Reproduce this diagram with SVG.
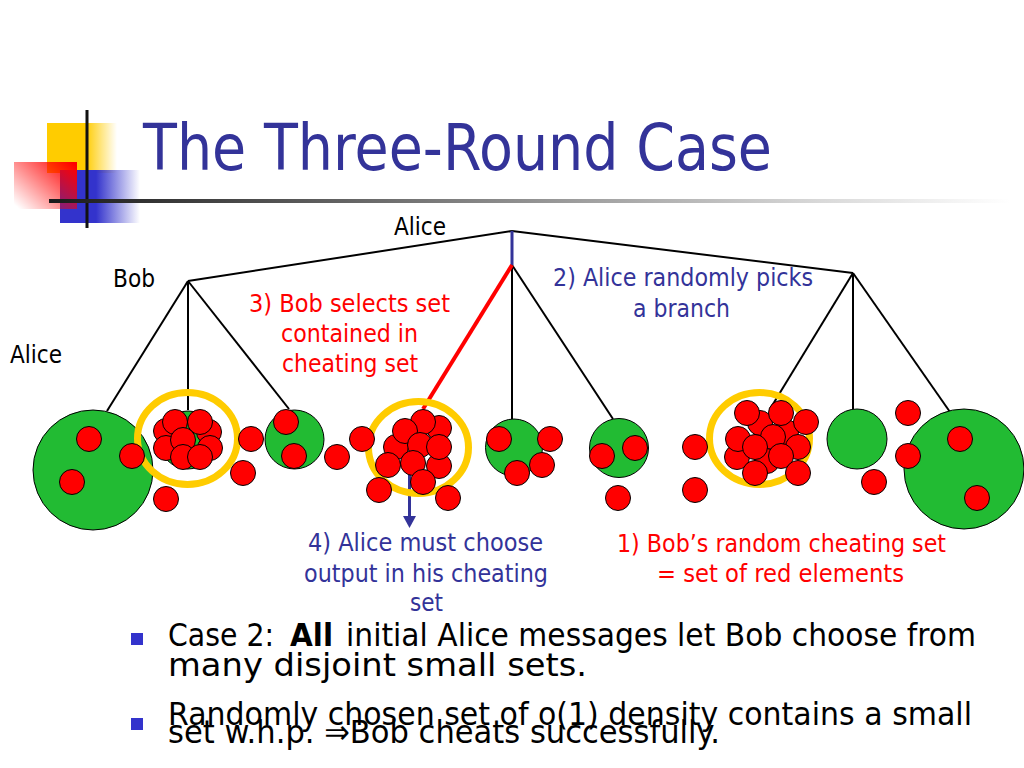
<svg xmlns="http://www.w3.org/2000/svg" width="1024" height="768" viewBox="0 0 1024 768">
<defs>
<linearGradient id="gy" gradientUnits="userSpaceOnUse" x1="47" y1="0" x2="117" y2="0"><stop offset="0" stop-color="#ffcc00"/><stop offset="0.55" stop-color="#ffcc00"/><stop offset="1" stop-color="#ffcc00" stop-opacity="0"/></linearGradient>
<linearGradient id="gb" gradientUnits="userSpaceOnUse" x1="60" y1="0" x2="140" y2="0"><stop offset="0" stop-color="#3333cc"/><stop offset="0.45" stop-color="#3333cc"/><stop offset="1" stop-color="#3333cc" stop-opacity="0"/></linearGradient>
<linearGradient id="gr" x1="1" y1="0.1" x2="0" y2="0.9"><stop offset="0" stop-color="#ff0000"/><stop offset="1" stop-color="#ff0000" stop-opacity="0"/></linearGradient>
<linearGradient id="gl" gradientUnits="userSpaceOnUse" x1="49" y1="0" x2="1010" y2="0"><stop offset="0" stop-color="#1a1a1a"/><stop offset="0.4" stop-color="#7a7a7a"/><stop offset="0.8" stop-color="#d8d8d8"/><stop offset="1" stop-color="#ffffff"/></linearGradient>
<style>
text{font-family:"DejaVu Sans","Liberation Sans",sans-serif}
.lbl{font-size:24px;fill:#000}
.blue{font-size:24px;fill:#333399}
.red{font-size:24px;fill:#ff0000}
.body{font-size:32px;fill:#000}
.edge{stroke:#000;stroke-width:2;fill:none}
.r{fill:#ff0000;stroke:#000;stroke-width:1}
.g{fill:#22bb33;stroke:#000;stroke-width:1}
.y{fill:none;stroke:#ffcc00;stroke-width:7}
</style>
</defs>
<rect width="1024" height="768" fill="#fff"/>
<g id="logo">
<rect x="47" y="123" width="70" height="50" fill="url(#gy)"/>
<rect x="60" y="170" width="80" height="53" fill="url(#gb)"/>
<rect x="14" y="162" width="63" height="47" fill="url(#gr)"/>
<rect x="85.5" y="110" width="3" height="118" fill="#111"/>
<rect x="49" y="199" width="961" height="4" fill="url(#gl)"/>
</g>
<text id="title" x="143" y="170" font-size="64" fill="#333399" textLength="629" lengthAdjust="spacingAndGlyphs">The Three-Round Case</text>

<g id="connectors">
<line class="edge" x1="512" y1="231" x2="188" y2="281"/>
<line class="edge" x1="512" y1="231" x2="853" y2="273"/>
<line class="edge" x1="188" y1="281" x2="107" y2="411"/>
<line class="edge" x1="188" y1="281" x2="188" y2="410"/>
<line class="edge" x1="188" y1="281" x2="289" y2="409"/>
<line class="edge" x1="512" y1="265" x2="512" y2="419"/>
<line class="edge" x1="512" y1="265" x2="613" y2="419"/>
<line class="edge" x1="853" y1="273" x2="770" y2="409"/>
<line class="edge" x1="853" y1="273" x2="853" y2="409"/>
<line class="edge" x1="853" y1="273" x2="950" y2="412"/>
<line x1="512" y1="231" x2="512" y2="265" stroke="#333399" stroke-width="3"/>
<line x1="512" y1="265" x2="423" y2="409" stroke="#ff0000" stroke-width="4"/>
<line x1="409.5" y1="470" x2="409.5" y2="518" stroke="#333399" stroke-width="3"/>
<polygon points="403,516 416,516 409.5,528" fill="#333399"/>
</g>

<g id="node-alice-root"><text class="lbl" x="394" y="235" textLength="52" lengthAdjust="spacingAndGlyphs">Alice</text></g>
<g id="node-bob-left"><text class="lbl" x="113" y="287" textLength="42" lengthAdjust="spacingAndGlyphs">Bob</text></g>
<g id="level-alice"><text class="lbl" x="10" y="363" textLength="52" lengthAdjust="spacingAndGlyphs">Alice</text></g>

<g id="set-1">
<circle class="g" cx="93" cy="470" r="60"/>
<circle class="r" cx="89" cy="439" r="12.5"/>
<circle class="r" cx="72" cy="482" r="12.5"/>
</g>
<g id="set-2">
<circle class="g" cx="188" cy="440" r="29"/>
<ellipse class="y" cx="187.5" cy="438.5" rx="50" ry="46"/>
<circle class="r" cx="166" cy="431" r="12.5"/>
<circle class="r" cx="209" cy="432" r="12.5"/>
<circle class="r" cx="166" cy="448" r="12.5"/>
<circle class="r" cx="210" cy="448" r="12.5"/>
<circle class="r" cx="175" cy="422" r="12.5"/>
<circle class="r" cx="200" cy="422" r="12.5"/>
<circle class="r" cx="183" cy="440" r="12.5"/>
<circle class="r" cx="183" cy="457" r="12.5"/>
<circle class="r" cx="200" cy="457" r="12.5"/>
<circle class="r" cx="132" cy="456" r="12.5"/>
<circle class="r" cx="166" cy="499" r="12.5"/>
<circle class="r" cx="251" cy="439" r="12.5"/>
<circle class="r" cx="243" cy="473" r="12.5"/>
</g>
<g id="set-3">
<circle class="g" cx="294.5" cy="439.5" r="29.5"/>
<circle class="r" cx="286" cy="422" r="12.5"/>
<circle class="r" cx="294" cy="456" r="12.5"/>
<circle class="r" cx="337" cy="457" r="12.5"/>
</g>
<g id="node-bob-mid">
<ellipse class="y" cx="418.5" cy="447.5" rx="50" ry="46"/>
<circle class="r" cx="362" cy="439" r="12.5"/>
<circle class="r" cx="439" cy="428" r="12.5"/>
<circle class="r" cx="423" cy="422" r="12.5"/>
<circle class="r" cx="396" cy="447" r="12.5"/>
<circle class="r" cx="405" cy="431" r="12.5"/>
<circle class="r" cx="420" cy="445" r="12.5"/>
<circle class="r" cx="439" cy="466" r="12.5"/>
<circle class="r" cx="439" cy="447" r="12.5"/>
<circle class="r" cx="388" cy="465" r="12.5"/>
<circle class="r" cx="413" cy="463" r="12.5"/>
<circle class="r" cx="423" cy="482" r="12.5"/>
<circle class="r" cx="379" cy="490" r="12.5"/>
<circle class="r" cx="448" cy="498" r="12.5"/>
</g>
<g id="set-5">
<circle class="g" cx="514" cy="447.5" r="28.5"/>
<circle class="r" cx="499" cy="439" r="12.5"/>
<circle class="r" cx="550" cy="439" r="12.5"/>
<circle class="r" cx="542" cy="465" r="12.5"/>
<circle class="r" cx="517" cy="473" r="12.5"/>
</g>
<g id="set-6">
<circle class="g" cx="619" cy="448" r="29.5"/>
<circle class="r" cx="602" cy="456" r="12.5"/>
<circle class="r" cx="635" cy="448" r="12.5"/>
<circle class="r" cx="618" cy="498" r="12.5"/>
</g>
<g id="node-bob-right">
<ellipse class="y" cx="759.5" cy="438.5" rx="50" ry="46"/>
<circle class="r" cx="695" cy="447" r="12.5"/>
<circle class="r" cx="695" cy="490" r="12.5"/>
<circle class="r" cx="760" cy="423" r="12.5"/>
<circle class="r" cx="786" cy="432" r="12.5"/>
<circle class="r" cx="767" cy="461" r="12.5"/>
<circle class="r" cx="747" cy="413" r="12.5"/>
<circle class="r" cx="781" cy="413" r="12.5"/>
<circle class="r" cx="806" cy="422" r="12.5"/>
<circle class="r" cx="773" cy="437" r="12.5"/>
<circle class="r" cx="798" cy="447" r="12.5"/>
<circle class="r" cx="737" cy="457" r="12.5"/>
<circle class="r" cx="738" cy="439" r="12.5"/>
<circle class="r" cx="755" cy="447" r="12.5"/>
<circle class="r" cx="781" cy="456" r="12.5"/>
<circle class="r" cx="755" cy="473" r="12.5"/>
<circle class="r" cx="798" cy="473" r="12.5"/>
</g>
<g id="set-8">
<circle class="g" cx="857" cy="439" r="30"/>
<circle class="r" cx="874" cy="482" r="12.5"/>
</g>
<g id="set-9">
<circle class="g" cx="964" cy="469" r="60"/>
<circle class="r" cx="908" cy="413" r="12.5"/>
<circle class="r" cx="908" cy="456" r="12.5"/>
<circle class="r" cx="960" cy="439" r="12.5"/>
<circle class="r" cx="977" cy="498" r="12.5"/>
</g>

<g id="note-2">
<text class="blue" x="553" y="286" textLength="260" lengthAdjust="spacingAndGlyphs">2) Alice randomly picks</text>
<text class="blue" x="633" y="317" textLength="97" lengthAdjust="spacingAndGlyphs">a branch</text>
</g>
<g id="note-3">
<text class="red" x="249" y="312" textLength="201" lengthAdjust="spacingAndGlyphs">3) Bob selects set</text>
<text class="red" x="281" y="342" textLength="137" lengthAdjust="spacingAndGlyphs">contained in</text>
<text class="red" x="282" y="372" textLength="136" lengthAdjust="spacingAndGlyphs">cheating set</text>
</g>
<g id="note-4">
<text class="blue" x="308" y="551" textLength="235" lengthAdjust="spacingAndGlyphs">4) Alice must choose</text>
<text class="blue" x="304" y="582" textLength="244" lengthAdjust="spacingAndGlyphs">output in his cheating</text>
<text class="blue" x="410" y="611" textLength="33" lengthAdjust="spacingAndGlyphs">set</text>
</g>
<g id="note-1">
<text class="red" x="617" y="552" textLength="329" lengthAdjust="spacingAndGlyphs">1) Bob’s random cheating set</text>
<text class="red" x="657" y="582" textLength="247" lengthAdjust="spacingAndGlyphs">= set of red elements</text>
</g>

<g id="bullets">
<rect x="131" y="633" width="12" height="12" fill="#3333cc"/>
<rect x="131" y="718" width="12" height="12" fill="#3333cc"/>
<text class="body" x="168" y="646" textLength="106" lengthAdjust="spacingAndGlyphs">Case 2:</text>
<text class="body" x="290" y="646" font-weight="bold" textLength="43" lengthAdjust="spacingAndGlyphs">All</text>
<text class="body" x="346" y="646" textLength="630" lengthAdjust="spacingAndGlyphs">initial Alice messages let Bob choose from</text>
<text class="body" x="168" y="676" textLength="419" lengthAdjust="spacingAndGlyphs">many disjoint small sets.</text>
<text class="body" x="168" y="725" textLength="804" lengthAdjust="spacingAndGlyphs">Randomly chosen set of o(1) density contains a small</text>
<text class="body" x="168" y="743" textLength="552" lengthAdjust="spacingAndGlyphs">set w.h.p. ⇒Bob cheats successfully.</text>
</g>
</svg>
